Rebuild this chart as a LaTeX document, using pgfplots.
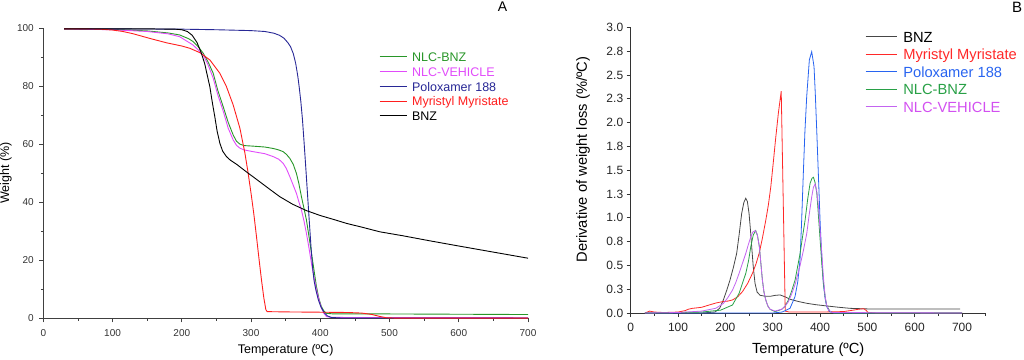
\documentclass[border=0pt]{standalone}
\usepackage{fontspec}
\setmainfont{Liberation Sans}
\usepackage{pgfplots}
\pgfplotsset{compat=1.18}
\definecolor{Agreen}{RGB}{40,150,40}
\definecolor{Amag}{RGB}{225,75,250}
\definecolor{Ablue}{RGB}{40,40,150}
\definecolor{Ared}{RGB}{255,30,30}
\definecolor{Bgray}{RGB}{70,70,70}
\definecolor{Bred}{RGB}{255,40,40}
\definecolor{Bblue}{RGB}{40,100,240}
\definecolor{Bgreen}{RGB}{40,160,70}
\definecolor{Bmag}{RGB}{195,100,240}
\definecolor{Bmagt}{RGB}{210,80,240}
\begin{document}
\begin{tikzpicture}
\useasboundingbox (0,0) rectangle (1024pt,359pt);
% ---------------- Panel A ----------------
\begin{axis}[
  at={(43.3pt,40.7pt)}, anchor=south west, scale only axis,
  width=484.7pt, height=290.3pt,
  xmin=0, xmax=700, ymin=0, ymax=100,
  axis x line*=bottom, axis y line*=left,
  xtick={0,100,...,700}, minor xtick={50,150,...,650},
  ytick={0,20,...,100}, minor ytick={10,30,...,90},
  tick align=outside, major tick length=4pt, minor tick length=2.5pt,
  tick style={black!75, line width=0.7pt},
  axis line style={black!75, line width=0.9pt},
  /pgf/number format/assume math mode=true,
  ticklabel style={font=\fontsize{10}{12}\selectfont, text=black!80},
  xticklabel style={yshift=-4pt},
  yticklabel style={xshift=-2pt},
  xlabel={Temperature (ºC)}, ylabel={Weight (\%)},
  xlabel style={at={(axis description cs:0.5,0)}, anchor=center, yshift=-31.7pt, font=\fontsize{12.5}{14}\selectfont},
  ylabel style={at={([xshift=-37.3pt]axis description cs:0,0.5)}, anchor=center, font=\fontsize{12.5}{14}\selectfont},
  legend style={at={(axis description cs:0.6926,0.9166)}, anchor=north west, draw=none, fill=none,
    inner sep=0pt, font=\fontsize{12.5}{14}\selectfont, row sep=3.2pt,
    nodes={inner sep=0pt, text height=9pt, text depth=2.6pt},
    /tikz/every odd column/.append style={column sep=4.3pt}},
  legend cell align=left,
  legend image code/.code={\draw[#1] (0pt,1.5pt) -- (27.7pt,1.5pt);},
  every axis plot/.append style={line width=0.9pt},
]
\addplot[Agreen] coordinates {
(30,99.7)(100,99.5)(150,99.0)(180,98.3)(197,97.6)(210,96.3)(216.5,95.3)(225,93.2)(231,91.3)(238,88.3)
(245.4,84.4)(252,78.5)(259.8,72.9)(267,67.5)(274.3,63.1)(279,61.0)(283.9,60.0)(290,59.5)(303.1,59.3)
(320,59.0)(332,58.5)(340,58.0)(346.4,57.4)(351,56.5)(356,55.1)(361,53.0)(365.6,49.9)(369,46.5)
(372.8,41.9)(376.5,37.8)(380,33.9)(383.5,28.5)(387.3,22.4)(391,16.5)(394.5,10.9)(398,6.8)(401.7,4.0)
(405,2.6)(409,1.7)(420,1.5)(500,1.5)(600,1.4)(700,1.3)};
\addlegendentry{\textcolor{Agreen}{NLC-BNZ}}
\addplot[Amag] coordinates {
(30,99.7)(100,99.4)(150,98.8)(180,98.0)(197,97.0)(216.5,94.1)(231,90.7)(238,87.3)(245.4,82.7)(252,77.0)
(259.8,71.4)(267,65.5)(274.3,61.4)(279,59.6)(283.9,58.6)(290,58.0)(303.1,57.4)(320,56.7)(332,55.7)
(340,54.8)(346.4,53.4)(351,51.6)(356,48.8)(361,45.8)(365.6,43.0)(369,40.2)(372.8,37.3)(376.5,33.5)
(380,29.3)(383.5,24.5)(387.3,18.9)(391,14.0)(394.5,9.8)(398,6.5)(401.7,3.5)(405,1.8)(409,0.6)(415,0.3)(700,0.2)};
\addlegendentry{\textcolor{Amag}{NLC-VEHICLE}}
\addplot[Ablue] coordinates {
(30,99.7)(100,99.7)(200,99.6)(250,99.4)(300,99.1)(320,98.8)(333,98.2)(341,97.5)(347.5,96.5)(353,95.0)
(357,93.6)(361,91.2)(364.5,87.8)(367.5,83.5)(369.5,79.8)(372,74.5)(374.3,68.4)(376.5,61.0)(379,52.2)
(381.5,43.0)(384,33.9)(386.5,25.0)(388.8,17.8)(391,13.0)(393.6,9.8)(397,6.5)(400.8,4.0)(405.5,2.0)
(410.5,0.8)(416,0.3)(430,0.1)(700,0.1)};
\addlegendentry{\textcolor{Ablue}{Poloxamer 188}}
\addplot[Ared] coordinates {
(30,99.7)(60,99.7)(82,99.6)(100,99.3)(115,98.8)(130,98.0)(154,96.4)(178,94.9)(200,93.8)(211.7,93.0)
(226.2,91.5)(240.5,89.0)(255,84.4)(264.5,79.8)(274.2,73.5)(283.9,65.5)(291.1,57.0)(295.9,49.9)
(300.7,41.9)(304,36)(307.9,28.1)(311.5,20.5)(315.1,13.2)(318.5,7.0)(321.4,3.0)(323.3,2.3)(350,2.2)
(400,2.1)(440,2.0)(460,1.8)(475,1.3)(485,0.7)(495,0.2)(510,0.05)(700,0.05)};
\addlegendentry{\textcolor{Ared}{Myristyl Myristate}}
\addplot[black] coordinates {
(30,99.7)(100,99.7)(150,99.7)(190,99.6)(200,99.4)(208,98.8)(215,97.5)(222,95.0)(228,91.5)(233,87.8)
(237,83.5)(240.5,79.8)(244,74.5)(247.7,69.4)(251,64.5)(255,60.3)(259,57.6)(264.5,55.7)(270,54.5)
(280,52.9)(293,50.5)(310,47.5)(325,44.8)(341.5,41.9)(360,39.3)(380,37.1)(400,35.4)(420,34.0)
(437.8,32.7)(460,31.4)(485.9,29.8)(520,28.4)(558,26.7)(600,24.9)(650,22.8)(700,20.7)};
\addlegendentry{\textcolor{black}{BNZ}}
\end{axis}
\node[font=\fontsize{14}{16}\selectfont] at (502.5pt,352.3pt) {A};
% ---------------- Panel B ----------------
\begin{axis}[
  at={(630.7pt,46pt)}, anchor=south west, scale only axis,
  width=355pt, height=285.7pt,
  xmin=0, xmax=750, ymin=0, ymax=3,
  axis x line*=bottom, axis y line*=left,
  xtick={0,100,...,700}, minor xtick={50,150,...,750},
  ytick={0,0.25,...,3},
  yticklabels={0.0,0.3,0.5,0.8,1.0,1.3,1.5,1.8,2.0,2.3,2.5,2.8,3.0},
  tick align=outside, major tick length=4pt, minor tick length=2.5pt,
  tick style={black!80, line width=0.8pt},
  axis line style={black!80, line width=1pt},
  /pgf/number format/assume math mode=true,
  ticklabel style={font=\fontsize{12}{14}\selectfont, text=black!85},
  xticklabel style={yshift=-3pt},
  xlabel={Temperature (ºC)}, ylabel={Derivative of weight loss (\%/ºC)},
  xlabel style={at={(axis description cs:0.5,0)}, anchor=center, yshift=-37pt, font=\fontsize{14.7}{17}\selectfont},
  ylabel style={at={([xshift=-47.7pt]axis description cs:0,0.537)}, anchor=center, font=\fontsize{14.7}{17}\selectfont},
  legend style={at={(axis description cs:0.66,0.9857)}, anchor=north west, draw=none, fill=none,
    inner sep=0pt, font=\fontsize{14.7}{17}\selectfont, row sep=3.9pt,
    nodes={inner sep=0pt, text height=10.6pt, text depth=3pt},
    /tikz/every odd column/.append style={column sep=5.6pt}},
  legend cell align=left,
  legend image code/.code={\draw[#1] (0pt,1.5pt) -- (31.7pt,1.5pt);},
  every axis plot/.append style={line width=0.8pt},
]
\addplot[Bgray] coordinates {
(30,0.0)(150,0.0)(178,0.01)(188,0.05)(195.7,0.137)(203,0.24)(209.8,0.347)(217,0.48)(223.9,0.627)
(229,0.82)(234.5,1.047)(239,1.16)(243,1.204)(246.5,1.17)(250,1.047)(253,0.87)(255.6,0.697)(259,0.48)
(262.7,0.31)(267,0.22)(273.3,0.186)(285,0.175)(294.4,0.175)(305,0.185)(315.5,0.19)(326,0.17)
(336.7,0.144)(355,0.12)(371.9,0.102)(390,0.088)(414.2,0.074)(440,0.06)(463.5,0.049)(500,0.043)
(600,0.042)(696,0.042)};
\addlegendentry{\textcolor{black}{BNZ}}
\addplot[Bred] coordinates {
(30,0.0)(40,0.02)(50,0.01)(70,0.005)(100,0.01)(115,0.025)(122,0.04)(130.5,0.049)(150,0.06)(165.7,0.084)
(180,0.105)(193.9,0.119)(205,0.125)(215,0.137)(226,0.17)(236.1,0.224)(247,0.31)(257.3,0.417)(265,0.52)
(271.4,0.627)(278,0.78)(285.5,0.977)(291,1.14)(296,1.327)(301,1.57)(306.6,1.85)(312,2.1)(318,2.33)
(326.5,0.02)(335,0.01)(400,0.01)(450,0.015)(470,0.03)(482,0.04)(492,0.045)(497,0.03)(501,0.007)
(520,0.0)(700,0.0)};
\addlegendentry{\textcolor{Bred}{Myristyl Myristate}}
\addplot[Bblue] coordinates {
(30,0.0)(300,0.0)(320,0.01)(336.5,0.049)(347.1,0.171)(353,0.33)(357.7,0.557)(361,0.95)(364.7,1.467)
(368,1.9)(371.8,2.27)(377.4,2.657)(382.4,2.744)(387.3,2.587)(390,2.3)(393,1.92)(396.5,1.45)(400,0.977)
(403.5,0.6)(407,0.31)(410.5,0.16)(414.2,0.067)(420,0.015)(430,0.0)(700,0.0)};
\addlegendentry{\textcolor{Bblue}{Poloxamer 188}}
\addplot[Bgreen] coordinates {
(30,0.0)(100,0.005)(150,0.01)(190,0.03)(215,0.084)(229,0.207)(243.2,0.417)(249,0.55)(253.7,0.697)
(259,0.82)(264.1,0.865)(268,0.81)(271.8,0.697)(275,0.52)(278.2,0.347)(281.5,0.22)(285.3,0.137)(290,0.07)
(294.4,0.039)(305,0.014)(319.1,0.039)(326,0.07)(333.2,0.137)(340,0.23)(347.3,0.347)(352,0.47)
(357.9,0.627)(363,0.8)(368.5,0.977)(374,1.2)(379,1.362)(383,1.415)(386.1,1.425)(389.5,1.37)(393.2,1.257)
(396.5,1.03)(400.2,0.767)(404,0.5)(407.3,0.31)(411,0.16)(414.3,0.074)(421.4,0.014)(430,0.0)(700,0.0)};
\addlegendentry{\textcolor{Bgreen}{NLC-BNZ}}
\addplot[Bmag] coordinates {
(30,0.0)(100,0.005)(150,0.02)(180,0.05)(195.7,0.10)(205,0.16)(215,0.24)(222,0.32)(229,0.417)(236,0.52)
(243.2,0.627)(248,0.71)(253.7,0.80)(258,0.85)(263,0.865)(267,0.83)(271.8,0.697)(275,0.52)(278.2,0.347)
(281.5,0.22)(285.3,0.137)(290,0.07)(294.4,0.04)(305,0.02)(319.1,0.04)(326,0.07)(333.2,0.12)(340,0.2)
(347.3,0.3)(352,0.39)(357.9,0.5)(365,0.66)(372,0.837)(377,1.03)(382.5,1.222)(386,1.32)(389.6,1.355)
(393,1.28)(396.7,1.117)(400,0.88)(403.8,0.627)(407,0.38)(410.8,0.171)(414,0.08)(417.9,0.032)(425,0.005)(700,0.0)};
\addlegendentry{\textcolor{Bmagt}{NLC-VEHICLE}}
\end{axis}
\node[font=\fontsize{15}{17}\selectfont] at (1017pt,352pt) {B};
\end{tikzpicture}
\end{document}
